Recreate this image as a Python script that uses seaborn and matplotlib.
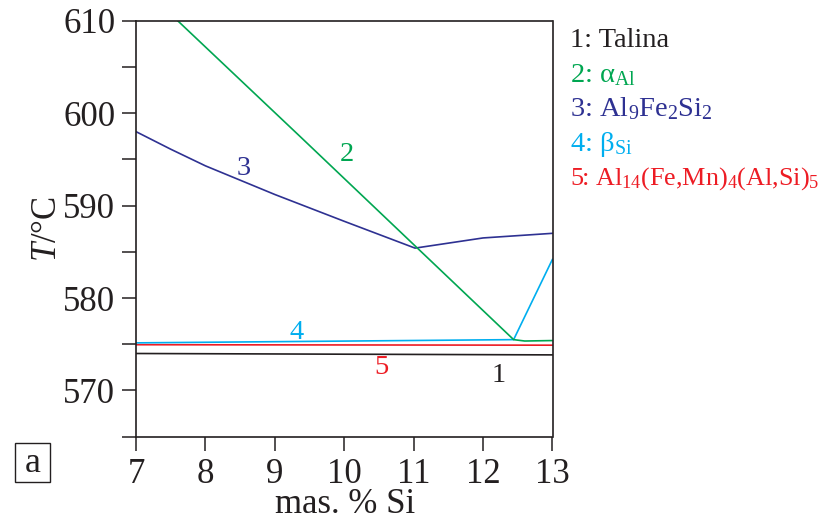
import matplotlib
matplotlib.use("Agg")
import matplotlib.pyplot as plt
from matplotlib.patches import Rectangle
import seaborn as sns
import pandas as pd

# Liquidus / phase-formation temperatures vs. silicon content
talina_si = [7.0, 13.0]
talina_t = [574.0, 573.85]

alpha_si = [7.0, 7.6, 9.36, 12.44, 12.6, 13.0]
alpha_t = [614.3, 610.0, 597.5, 575.5, 575.35, 575.4]

fesi_si = [7.0, 7.5, 8.0, 9.0, 10.0, 11.02, 12.0, 13.0]
fesi_t = [598.0, 596.1, 594.3, 591.2, 588.3, 585.4, 586.5, 587.0]

beta_si = [7.0, 12.44, 13.0]
beta_t = [575.15, 575.5, 584.2]

mn_si = [7.0, 13.0]
mn_t = [574.95, 574.9]

series_names = ["1", "2", "3", "4", "5"]
series_colors = ["#231f20", "#00a651", "#2e3192", "#00aeef", "#ed1c24"]
legend_labels = [
    "1: Talina",
    "2: α$_{\\rm Al}$",
    "3: Al$_{\\rm 9}$Fe$_{\\rm 2}$Si$_{\\rm 2}$",
    "4: β$_{\\rm Si}$",
    "5: Al$_{\\rm 14}$(Fe,Mn)$_{\\rm 4}$(Al,Si)$_{\\rm 5}$",
]
# in-plot curve numbers (x, T at text baseline)
label_pos = [(12.22, 570.94), (10.04, 594.8), (8.55, 593.26), (9.31, 575.57), (10.54, 571.8)]

x_ticks = [7, 8, 9, 10, 11, 12, 13]
y_ticks = [570, 580, 590, 600, 610]
y_minor = [565, 575, 585, 595, 605]

sns.set_style("ticks")
plt.rcParams["font.family"] = ["Liberation Serif", "DejaVu Serif"]
plt.rcParams["mathtext.fontset"] = "custom"
plt.rcParams["mathtext.rm"] = "Liberation Serif"
plt.rcParams["mathtext.it"] = "Liberation Serif:italic"
plt.rcParams["mathtext.bf"] = "Liberation Serif:bold"

ink = "#231f20"

frames = []
for name, xs, ts in zip(series_names,
                        [talina_si, alpha_si, fesi_si, beta_si, mn_si],
                        [talina_t, alpha_t, fesi_t, beta_t, mn_t]):
    frames.append(pd.DataFrame({"Si": xs, "T": ts, "curve": name}))
df = pd.concat(frames, ignore_index=True)

W, H = 832, 520
fig = plt.figure(figsize=(W / 100, H / 100), dpi=100)
ax = fig.add_axes([136 / W, 1 - 436.7 / H, 416.5 / W, 416 / H])

# draw order: black, red, cyan, blue, green
for name in ["1", "5", "4", "3", "2"]:
    i = series_names.index(name)
    sns.lineplot(data=df[df["curve"] == name], x="Si", y="T", color=series_colors[i],
                 linewidth=1.2, ax=ax, sort=False, estimator=None, legend=False)

ax.set_xlim(7, 13)
ax.set_ylim(565, 610)
ax.set_xticks(x_ticks)
ax.set_yticks(y_ticks)
ax.set_yticks(y_minor, minor=True)
ax.tick_params(axis="both", which="both", direction="out", length=10, width=1.1,
               color=ink, labelsize=25, labelcolor=ink, pad=5)
for sp in ax.spines.values():
    sp.set_linewidth(1.2)
    sp.set_color(ink)

ax.set_xlabel("mas. % Si", fontsize=25, color=ink)
ax.xaxis.label.set_va("baseline")
ax.xaxis.set_label_coords(0.501, -(513 - 436.7) / 416)
ax.set_ylabel(r"$\it{T}$/°C", fontsize=25, color=ink)
ax.yaxis.label.set_va("center")
ax.yaxis.set_label_coords((48 - 136) / 416.5, 0.499)

for (lx, ly), name, col in zip(label_pos, series_names, series_colors):
    ax.text(lx, ly, name, color=col, fontsize=20.5, ha="center", va="baseline")

# curve key to the right of the plot
key_baselines = [47, 82, 116, 151, 185]
key_sizes = [20.5, 20.5, 20.5, 20.5, 18.8]
for txt, col, b, fs in zip(legend_labels, series_colors, key_baselines, key_sizes):
    fig.text(570 / W, 1 - b / H, txt, color=col, fontsize=fs,
             ha="left", va="baseline")

# boxed panel letter
fig.patches.append(Rectangle((15 / W, 1 - 482 / H), 35 / W, 39 / H,
                             transform=fig.transFigure, facecolor="none",
                             edgecolor=ink, linewidth=1.0))
fig.text(32.5 / W, 1 - 472 / H, "a", fontsize=26, color=ink, ha="center", va="baseline")

fig.savefig("out.png", dpi=100)
